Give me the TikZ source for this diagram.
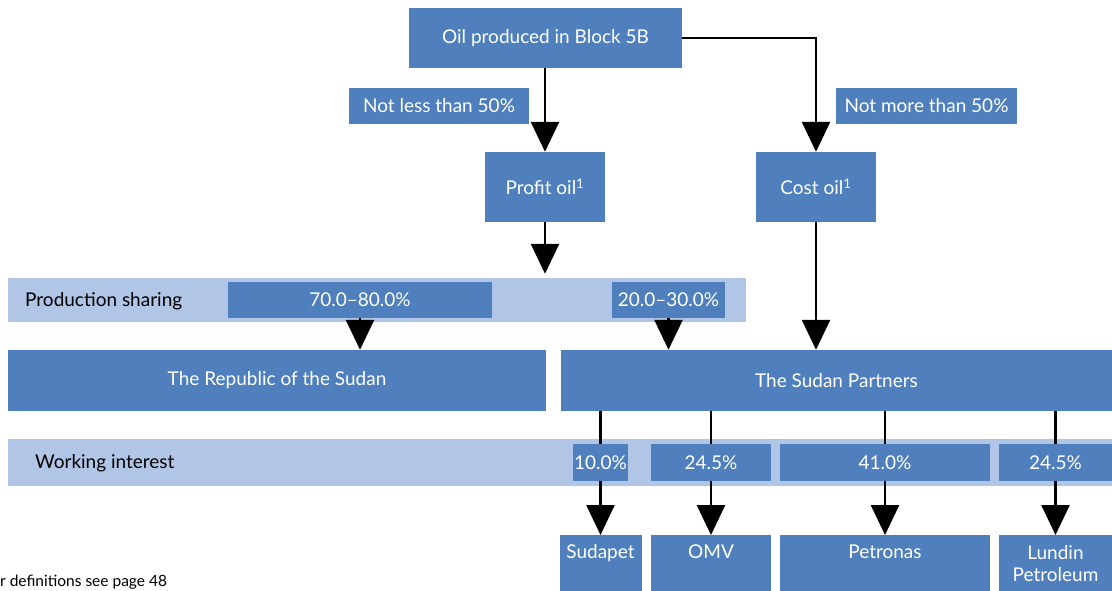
\documentclass[tikz,border=0pt]{standalone}
\usepackage{fontspec}
\setmainfont{Lato}
\setsansfont{Lato}
\usetikzlibrary{arrows.meta}
\usetikzlibrary{positioning}
\definecolor{boxblue}{HTML}{4F80BD}
\definecolor{bandblue}{HTML}{B1C5E6}
\tikzset{every picture/.style={/utils/exec={\sffamily}}}
\tikzset{
  flowbox/.style={fill=boxblue, text=white, inner sep=0pt, font=\fontsize{19}{22}\selectfont, align=center},
  band/.style={fill=bandblue, inner sep=0pt},
  bandtext/.style={text=black, font=\fontsize{19}{22}\selectfont, anchor=west, inner sep=0pt},
  flow/.style={line width=2.6pt, -{Triangle[width=28pt,length=30pt]}},
  plain/.style={line width=2.6pt},
  firmhigh/.style={text depth=24pt},
  firmmid/.style={}
}

\begin{document}
\begin{tikzpicture}[x=1pt, y=-1pt]
  \useasboundingbox (0,0) rectangle (1112,590);

  \node [flowbox, minimum width=273pt, minimum height=60pt] (oil) at (545.5,38) {Oil produced in Block 5B};
  \node [flowbox, minimum width=180pt, minimum height=36pt] (notless) at (439,106) {Not less than 50\%};
  \node [flowbox, minimum width=181pt, minimum height=36pt] (notmore) at (926.5,106) {Not more than 50\%};
  \node [flowbox, minimum width=120pt, minimum height=70pt] (profit) at (545,187) {Profit oil\textsuperscript{1}};
  \node [flowbox, minimum width=120pt, minimum height=70pt] (cost) at (816,187) {Cost oil\textsuperscript{1}};

  % production sharing
  \node [band, minimum width=738pt, minimum height=44pt] (shareband) at (377,300) {};
  \node [bandtext] (sharelabel) at (25,301) {Production sharing};
  \node [flowbox, minimum width=264pt, minimum height=36pt] (govshare) at (360,300) {70.0--80.0\%};
  \node [flowbox, minimum width=113pt, minimum height=36pt] (partshare) at (668.5,300) {20.0--30.0\%};

  \node [flowbox, minimum width=538pt, minimum height=61pt] (republic) at (277,380.5) {The Republic of the Sudan};
  \node [flowbox, minimum width=551pt, minimum height=61pt] (partners) at (836.5,380.5) {The Sudan Partners};

  % working interest
  \node [band, minimum width=1104pt, minimum height=47pt] (workband) at (560,462.5) {};
  \node [bandtext] (worklabel) at (35,463) {Working interest};

  \draw [flow] (oil.south -| profit.north) -- (profit.north);
  \draw [flow] (oil.east) -| (cost.north);
  \draw [flow] (profit.south) -- ([yshift=4pt]profit.south |- shareband.north);
  \draw [flow] (cost.south) -- (cost.south |- partners.north);
  \draw [flow] (govshare.south) -- (govshare.south |- republic.north);
  \draw [flow] (partshare.south) -- (partshare.south |- partners.north);

  \foreach \name/\x/\w/\fw/\pct/\fs/\firm in {sudapet/600.5/55/82/10.0/firmhigh/Sudapet,omv/711/120/120/24.5/firmhigh/OMV,petronas/885/210/210/41.0/firmhigh/Petronas,lundin/1055.5/113/113/24.5/firmmid/{Lundin\\Petroleum}} {
    \node [flowbox, minimum width=\w pt, minimum height=37pt] (wi\name) at (\x,462.5) {\pct\%};
    \node [flowbox, \fs, minimum width=\fw pt, minimum height=56pt, anchor=north] (firm\name) at (\x,535) {\firm};
    \draw [plain] (wi\name.north |- partners.south) -- (wi\name.north);
    \draw [flow] (wi\name.south) -- (firm\name.north);
  }

  \node [text=black, font=\fontsize{15.5}{18}\selectfont, anchor=base west, inner sep=0pt] (footnote) at (0,586) {r definitions see page 48};
\end{tikzpicture}
\end{document}
